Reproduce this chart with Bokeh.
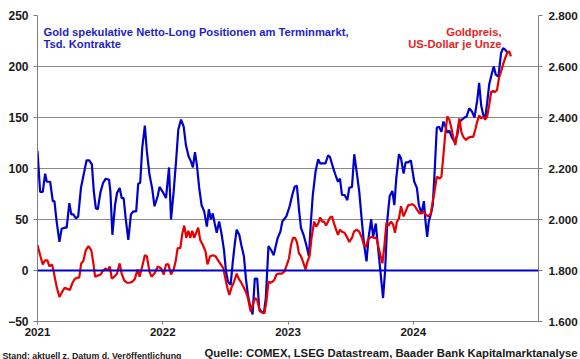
from bokeh.plotting import figure
from bokeh.models import Range1d, LinearAxis, FixedTicker, Span, Label
from bokeh.layouts import column
from bokeh.embed import file_html
from bokeh.resources import INLINE

# ---- data (decimal years) ----
blue_t = [2021.000, 2021.021, 2021.042, 2021.061, 2021.074, 2021.101, 2021.122, 2021.135, 2021.153, 2021.175,
          2021.193, 2021.220, 2021.233, 2021.254, 2021.270, 2021.286, 2021.307, 2021.325, 2021.347, 2021.365,
          2021.392, 2021.413, 2021.434, 2021.450, 2021.466, 2021.481, 2021.503, 2021.524, 2021.545, 2021.571,
          2021.582, 2021.598, 2021.619, 2021.635, 2021.656, 2021.672, 2021.688, 2021.704, 2021.725, 2021.746,
          2021.767, 2021.788, 2021.804, 2021.820, 2021.836, 2021.857, 2021.873, 2021.894, 2021.915, 2021.934,
          2021.960, 2021.974, 2022.000, 2022.026, 2022.050, 2022.066, 2022.087, 2022.108, 2022.124, 2022.146,
          2022.167, 2022.185, 2022.206, 2022.225, 2022.241, 2022.257, 2022.272, 2022.291, 2022.310, 2022.331,
          2022.352, 2022.368, 2022.384, 2022.399, 2022.415, 2022.431, 2022.450, 2022.468, 2022.489, 2022.505,
          2022.521, 2022.542, 2022.558, 2022.574, 2022.590, 2022.611, 2022.627, 2022.648, 2022.664, 2022.680,
          2022.701, 2022.717, 2022.735, 2022.754, 2022.770, 2022.786, 2022.807, 2022.823, 2022.844, 2022.865,
          2022.886, 2022.902, 2022.918, 2022.939, 2022.955, 2022.987, 2023.013, 2023.034, 2023.053, 2023.071,
          2023.087, 2023.103, 2023.124, 2023.146, 2023.167, 2023.183, 2023.198, 2023.220, 2023.241, 2023.257,
          2023.278, 2023.299, 2023.320, 2023.336, 2023.357, 2023.378, 2023.399, 2023.415, 2023.431, 2023.452,
          2023.474, 2023.489, 2023.511, 2023.529, 2023.548, 2023.569, 2023.590, 2023.608, 2023.627, 2023.643,
          2023.664, 2023.680, 2023.701, 2023.717, 2023.738, 2023.759, 2023.775, 2023.794, 2023.812, 2023.833,
          2023.849, 2023.865, 2023.886, 2023.902, 2023.923, 2023.939, 2023.960, 2023.981, 2024.008, 2024.029,
          2024.045, 2024.066, 2024.085, 2024.098, 2024.111, 2024.124, 2024.140, 2024.156, 2024.172, 2024.188,
          2024.206, 2024.225, 2024.241, 2024.257, 2024.272, 2024.288, 2024.310, 2024.331, 2024.352, 2024.370,
          2024.389, 2024.410, 2024.426, 2024.447, 2024.468, 2024.489, 2024.511, 2024.526, 2024.542, 2024.558,
          2024.574, 2024.590, 2024.606, 2024.627, 2024.643, 2024.659, 2024.680, 2024.701, 2024.717, 2024.738,
          2024.754]
blue_v = [117, 77, 77, 95, 87, 87, 68, 68, 48, 28,
          41, 42, 42, 66, 55, 55, 51, 53, 81, 92,
          108, 108, 104, 77, 61, 60, 77, 86, 90, 89,
          77, 35, 64, 76, 81, 71, 71, 51, 30, 55,
          58, 58, 85, 86, 120, 142, 117, 94, 81, 63,
          73, 82, 77, 71, 101, 50, 77, 110, 138, 148,
          141, 123, 112, 107, 101, 116, 104, 81, 64, 58,
          43, 60, 50, 56, 46, 37, 48, 37, 20, -1,
          -11, -14, 7, 25, 40, 35, 25, 14, -8, -24,
          -37, -43, -8, -8, -37, -40, -42, -27, 24, 20,
          15, 24, 32, 38, 48, 53, 63, 74, 82, 83,
          61, 42, 35, 25, 14, 48, 74, 97, 109, 105,
          105, 105, 113, 111, 102, 94, 87, 90, 74, 74,
          69, 81, 82, 114, 97, 77, 48, 25, 9, 32,
          50, 33, 46, 25, -1, -27, -1, 51, 73, 78,
          64, 91, 114, 110, 95, 106, 106, 108, 87, 81,
          64, 56, 68, 48, 33, 48, 55, 64, 100, 140,
          141, 136, 146, 141, 135, 137, 130, 126, 133, 146,
          148, 150, 151, 159, 156, 150, 167, 184, 162, 153,
          149, 164, 182, 193, 200, 192, 190, 213, 218, 216,
          213]

red_t = [2021.000, 2021.021, 2021.042, 2021.061, 2021.079, 2021.095, 2021.116, 2021.132, 2021.153, 2021.175,
         2021.196, 2021.217, 2021.238, 2021.259, 2021.280, 2021.299, 2021.317, 2021.333, 2021.349, 2021.365,
         2021.386, 2021.407, 2021.429, 2021.444, 2021.460, 2021.481, 2021.503, 2021.524, 2021.545, 2021.561,
         2021.577, 2021.593, 2021.614, 2021.635, 2021.656, 2021.672, 2021.693, 2021.714, 2021.735, 2021.757,
         2021.778, 2021.799, 2021.815, 2021.836, 2021.857, 2021.873, 2021.894, 2021.910, 2021.934, 2021.960,
         2021.987, 2022.008, 2022.026, 2022.045, 2022.066, 2022.087, 2022.103, 2022.119, 2022.140, 2022.156,
         2022.172, 2022.188, 2022.204, 2022.220, 2022.235, 2022.251, 2022.267, 2022.283, 2022.299, 2022.320,
         2022.341, 2022.357, 2022.378, 2022.399, 2022.421, 2022.442, 2022.463, 2022.484, 2022.500, 2022.516,
         2022.532, 2022.548, 2022.569, 2022.590, 2022.606, 2022.627, 2022.648, 2022.664, 2022.680, 2022.701,
         2022.717, 2022.738, 2022.754, 2022.775, 2022.791, 2022.812, 2022.828, 2022.844, 2022.860, 2022.876,
         2022.892, 2022.907, 2022.929, 2022.950, 2022.971, 2022.992, 2023.008, 2023.024, 2023.040, 2023.056,
         2023.071, 2023.087, 2023.103, 2023.119, 2023.140, 2023.156, 2023.172, 2023.188, 2023.209, 2023.225,
         2023.241, 2023.257, 2023.272, 2023.288, 2023.304, 2023.320, 2023.336, 2023.352, 2023.368, 2023.384,
         2023.399, 2023.415, 2023.431, 2023.452, 2023.474, 2023.489, 2023.511, 2023.526, 2023.548, 2023.569,
         2023.590, 2023.606, 2023.622, 2023.638, 2023.653, 2023.669, 2023.685, 2023.706, 2023.722, 2023.738,
         2023.754, 2023.770, 2023.786, 2023.802, 2023.823, 2023.839, 2023.854, 2023.870, 2023.886, 2023.902,
         2023.923, 2023.939, 2023.960, 2023.992, 2024.013, 2024.034, 2024.050, 2024.066, 2024.082, 2024.098,
         2024.119, 2024.140, 2024.156, 2024.172, 2024.188, 2024.209, 2024.225, 2024.241, 2024.257, 2024.272,
         2024.288, 2024.304, 2024.320, 2024.336, 2024.352, 2024.368, 2024.384, 2024.399, 2024.421, 2024.437,
         2024.458, 2024.479, 2024.495, 2024.511, 2024.526, 2024.542, 2024.558, 2024.574, 2024.590, 2024.606,
         2024.622, 2024.638, 2024.653, 2024.669, 2024.685, 2024.701, 2024.717, 2024.733, 2024.749, 2024.765,
         2024.780]
red_v = [1900, 1860, 1824, 1840, 1840, 1816, 1824, 1788, 1736, 1696,
         1716, 1732, 1728, 1724, 1752, 1768, 1772, 1772, 1828, 1836,
         1880, 1896, 1880, 1836, 1776, 1780, 1784, 1800, 1808, 1800,
         1816, 1768, 1776, 1788, 1828, 1788, 1760, 1752, 1752, 1756,
         1768, 1804, 1776, 1816, 1860, 1856, 1796, 1776, 1788, 1816,
         1808, 1784, 1824, 1824, 1784, 1804, 1836, 1888, 1888, 1944,
         1976, 1928, 1956, 1928, 1956, 1928, 1948, 1968, 1920, 1900,
         1876, 1824, 1856, 1860, 1856, 1840, 1824, 1808, 1768, 1732,
         1704, 1732, 1756, 1788, 1768, 1752, 1732, 1716, 1692, 1640,
         1664, 1692, 1684, 1640, 1636, 1632, 1680, 1756, 1752, 1756,
         1764, 1784, 1788, 1788, 1796, 1824, 1848, 1900, 1928, 1928,
         1912, 1868, 1856, 1836, 1804, 1836, 1856, 1928, 1992, 1972,
         1984, 2008, 1992, 1992, 1976, 1992, 2008, 2012, 1984, 1960,
         1940, 1960, 1952, 1948, 1928, 1912, 1928, 1952, 1960, 1952,
         1928, 1900, 1892, 1920, 1928, 1932, 1928, 1928, 1892, 1860,
         1828, 1900, 1988, 1976, 1992, 1980, 1948, 1992, 2004, 2052,
         2012, 2032, 2056, 2060, 2052, 2036, 2024, 2024, 2032, 2020,
         2012, 2024, 2072, 2116, 2168, 2160, 2168, 2252, 2344, 2404,
         2392, 2360, 2320, 2292, 2344, 2396, 2344, 2324, 2312, 2320,
         2324, 2324, 2352, 2384, 2408, 2396, 2404, 2392, 2404, 2448,
         2500, 2504, 2500, 2508, 2556, 2580, 2608, 2632, 2652, 2660,
         2640]

left_ticks = [-50, 0, 50, 100, 150, 200, 250]
right_ticks = [1600, 1800, 2000, 2200, 2400, 2600, 2800]
right_labels = ["1.600", "1.800", "2.000", "2.200", "2.400", "2.600", "2.800"]
year_ticks = [2021, 2022, 2023, 2024]
year_labels = ["2021", "2022", "2023", "2024"]

BLUE = "#0000cc"
RED = "#e60000"
GRID = "#8a8a8a"
AX = "#7f7f7f"
TXT = "#1a1a1a"
FONT = "Liberation Sans"

p = figure(width=580, height=343, output_backend="svg", toolbar_location=None,
           x_range=Range1d(2021, 2025), y_range=Range1d(-50, 250),
           min_border_left=37, min_border_right=42, min_border_top=15, min_border_bottom=22)
p.frame_align = False
p.extra_y_ranges = {"price": Range1d(1600, 2800)}
p.outline_line_color = None
p.background_fill_color = "white"
p.border_fill_color = "white"
p.xgrid.visible = False
p.ygrid.ticker = FixedTicker(ticks=[50, 100, 150, 200, 250])
p.ygrid.grid_line_color = GRID
p.ygrid.grid_line_width = 1


def style_axis(ax, size):
    ax.axis_line_color = AX
    ax.major_tick_line_color = AX
    ax.major_tick_in = 0
    ax.major_tick_out = 4
    ax.minor_tick_line_color = None
    ax.major_label_text_font = FONT
    ax.major_label_text_font_style = "bold"
    ax.major_label_text_font_size = size
    ax.major_label_text_color = TXT


yl = p.yaxis[0]
yl.ticker = FixedTicker(ticks=left_ticks)
style_axis(yl, "12px")
yl.major_label_standoff = 5

xb = p.xaxis[0]
xb.ticker = FixedTicker(ticks=year_ticks)
xb.major_label_overrides = dict(zip(year_ticks, year_labels))
style_axis(xb, "11.5px")
xb.major_tick_out = 3
xb.major_label_standoff = 3

yr = LinearAxis(y_range_name="price", ticker=FixedTicker(ticks=right_ticks),
                major_label_overrides=dict(zip(right_ticks, right_labels)))
style_axis(yr, "11.7px")
yr.major_label_standoff = 6
p.add_layout(yr, "right")

p.line(blue_t, blue_v, line_color=BLUE, line_width=2.2)
p.line(red_t, red_v, line_color=RED, line_width=2.2, y_range_name="price")

p.add_layout(Span(location=0, dimension="width", line_color=BLUE, line_width=2))

lab_kw = dict(text_font=FONT, text_font_style="bold", text_font_size="11.2px", text_baseline="alphabetic")
p.add_layout(Label(x=2021, y=250, x_offset=6, y_offset=-16, text_align="left",
                   text="Gold spekulative Netto-Long Positionen am Terminmarkt,", text_color="#1f1fc8", **lab_kw))
p.add_layout(Label(x=2021, y=250, x_offset=6, y_offset=-28, text_align="left",
                   text="Tsd. Kontrakte", text_color="#1f1fc8", **lab_kw))
p.add_layout(Label(x=2025, y=250, x_offset=-37, y_offset=-16, text_align="right",
                   text="Goldpreis,", text_color="#e8231e", **lab_kw))
p.add_layout(Label(x=2025, y=250, x_offset=-37, y_offset=-28, text_align="right",
                   text="US-Dollar je Unze", text_color="#e8231e", **lab_kw))

# footer strip (source notes)
f = figure(width=580, height=16, output_backend="svg", toolbar_location=None,
           x_range=Range1d(0, 580), y_range=Range1d(0, 16),
           x_axis_location=None, y_axis_location=None, min_border=0)
f.frame_align = False
f.outline_line_color = None
f.xgrid.visible = False
f.ygrid.visible = False
f.add_layout(Label(x=2, y=4, text_align="left", text_baseline="alphabetic",
                   text="Stand: aktuell z. Datum d. Veröffentlichung", text_color=TXT,
                   text_font=FONT, text_font_style="bold", text_font_size="8.8px"))
f.add_layout(Label(x=577, y=7, text_align="right", text_baseline="alphabetic",
                   text="Quelle: COMEX, LSEG Datastream, Baader Bank Kapitalmarktanalyse", text_color=TXT,
                   text_font=FONT, text_font_style="bold", text_font_size="11.3px"))

open("out.html", "w").write(file_html(column(p, f, spacing=0), INLINE))
